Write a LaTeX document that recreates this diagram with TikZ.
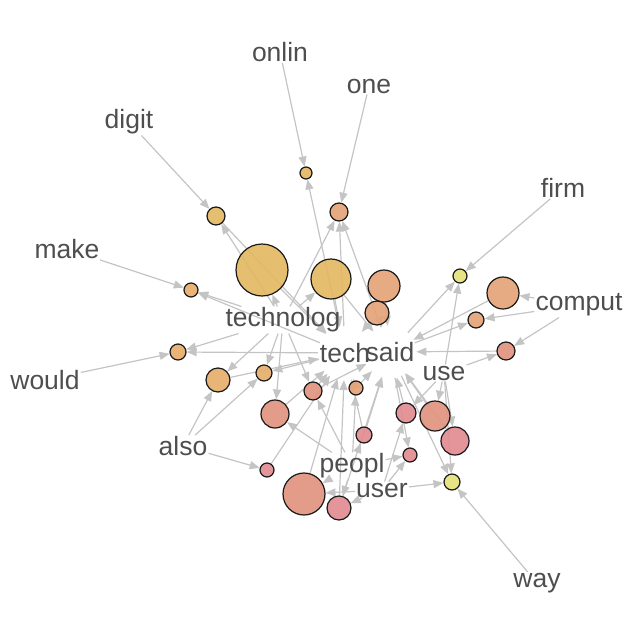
\documentclass[tikz,border=0pt]{standalone}
\usepackage{fontspec}
\setmainfont{Liberation Sans}
\usetikzlibrary{positioning, backgrounds, arrows.meta}
\definecolor{docgold}{RGB}{227,184,100}
\definecolor{docamber}{RGB}{230,174,108}
\definecolor{docorange}{RGB}{228,164,120}
\definecolor{docsalmon}{RGB}{226,148,128}
\definecolor{docpink}{RGB}{225,140,145}
\definecolor{docyellow}{RGB}{228,226,122}
\definecolor{linkgrey}{RGB}{196,196,196}
\definecolor{wordgrey}{RGB}{78,78,78}

\begin{document}
\begin{tikzpicture}[x=1pt, y=-1pt,
        doc/.style={circle, draw=black!90, line width=1.2pt, inner sep=0pt, fill opacity=0.92},
        word/.style={font=\fontsize{26.5}{30}\selectfont, text=wordgrey, inner sep=1pt},
        hub/.style={word, circle, inner sep=0pt},
        link/.style={draw, color=linkgrey, line width=1.2pt, -{Triangle[length=10pt, width=8pt]}}]
        \useasboundingbox (0,0) rectangle (629,630);

        % documents
        \node (C1)  [doc, fill=docgold,   minimum size=12pt] at (306,173) {};
        \node (C2)  [doc, fill=docorange, minimum size=18pt] at (339,212) {};
        \node (C3)  [doc, fill=docgold,   minimum size=18pt] at (216,216) {};
        \node (C4)  [doc, fill=docgold,   minimum size=52pt] at (262,270) {};
        \node (C5)  [doc, fill=docgold,   minimum size=40pt] at (331,279) {};
        \node (C6)  [doc, fill=docorange, minimum size=32pt] at (384,286) {};
        \node (C7)  [doc, fill=docorange, minimum size=24pt] at (377,313) {};
        \node (C8)  [doc, fill=docamber,  minimum size=14pt] at (191,290) {};
        \node (C9)  [doc, fill=docyellow, minimum size=14pt] at (460,276) {};
        \node (C10) [doc, fill=docorange, minimum size=32pt] at (503,293) {};
        \node (C11) [doc, fill=docorange, minimum size=16pt] at (476,320) {};
        \node (C12) [doc, fill=docsalmon, minimum size=18pt] at (506,351) {};
        \node (C13) [doc, fill=docamber,  minimum size=16pt] at (178,352) {};
        \node (C14) [doc, fill=docamber,  minimum size=24pt] at (218,380) {};
        \node (C15) [doc, fill=docamber,  minimum size=16pt] at (264,373) {};
        \node (C16) [doc, fill=docsalmon, minimum size=18pt] at (313,391) {};
        \node (C17) [doc, fill=docorange, minimum size=14pt] at (356,388) {};
        \node (C18) [doc, fill=docsalmon, minimum size=28pt] at (275,414) {};
        \node (C19) [doc, fill=docpink,   minimum size=20pt] at (406,413) {};
        \node (C20) [doc, fill=docsalmon, minimum size=30pt] at (435,416) {};
        \node (C21) [doc, fill=docpink,   minimum size=28pt] at (455,441) {};
        \node (C22) [doc, fill=docpink,   minimum size=16pt] at (364,435) {};
        \node (C23) [doc, fill=docpink,   minimum size=14pt] at (410,455) {};
        \node (C24) [doc, fill=docpink,   minimum size=14pt] at (267,470) {};
        \node (C25) [doc, fill=docsalmon, minimum size=42pt] at (304,494) {};
        \node (C26) [doc, fill=docpink,   minimum size=24pt] at (339,508) {};
        \node (C27) [doc, fill=docyellow, minimum size=16pt] at (452,482) {};

        % words
        \node (onlin)     [word] at (280,52)  {onlin};
        \node (one)       [word] at (369,86)  {one};
        \node (digit)     [word] at (129,122) {digit};
        \node (firm)      [word] at (563,188) {firm};
        \node (make)      [word] at (67,249)  {make};
        \node (technolog) [word] at (283,320) {technolog};
        \node (comput)    [word] at (579,305) {comput};
        \node (tech)      [hub]  at (345,353) {tech};
        \node (said)      [hub]  at (390,352) {said};
        \node (use)       [word] at (444,373) {use};
        \node (would)     [word] at (45,380)  {would};
        \node (also)      [word] at (183,446) {also};
        \node (peopl)     [word] at (352,466) {peopl};
        \node (user)      [word] at (382,490) {user};
        \node (way)       [word] at (537,583) {way};

        \begin{scope}[on background layer, every edge/.style={link}]
            \path (onlin) edge (C1);
            \path (one)   edge (C2);
            \path (digit) edge (C3);
            \path (make)  edge (C8);
            \path (would) edge (C13);
            \path (firm)  edge (C9);
            \path (way)   edge (C27);
            \path (comput) edge (C10) edge (C11) edge (C12);
            \path (also) edge (C14) edge (C15) edge (C24);
            \path (use) edge (C9) edge (C12) edge (C19) edge (C20) edge (C21) edge (C27);
            \path (technolog) edge (C2) edge (C3) edge (C4) edge (C5) edge (C8) edge (C13)
                edge (C14) edge (C15) edge (C16) edge (C18);
            \path (tech) edge (C1) edge (C2) edge (C8) edge (C13) edge (C15);
            \path (said) edge (C2) edge (C9) edge (C11) edge (C23) edge (C27);
            % into the hubs
            \path (C4)  edge (tech) (C5)  edge (tech) (C14) edge (tech) (C16) edge (tech)
                  (C17) edge (tech) (C18) edge (tech) (C22) edge (tech) (C24) edge (tech)
                  (C25) edge (tech) (C26) edge (tech) (C7)  edge (tech) (C3)  edge (tech);
            \path (C6)  edge (said) (C7)  edge (said) (C10) edge (said) (C12) edge (said)
                  (C19) edge (said) (C20) edge (said) (C21) edge (said) (C22) edge (said)
                  (C26) edge (said) (C16) edge (said) (C17) edge (said) (C5)  edge (said);
            \path (peopl) edge (C16) edge (C17) edge (C18) edge (C22) edge (C23) edge (C25) edge (C26);
            \path (user) edge (C19) edge (C23) edge (C25) edge (C26) edge (C27);
        \end{scope}
    \end{tikzpicture}
\end{document}
